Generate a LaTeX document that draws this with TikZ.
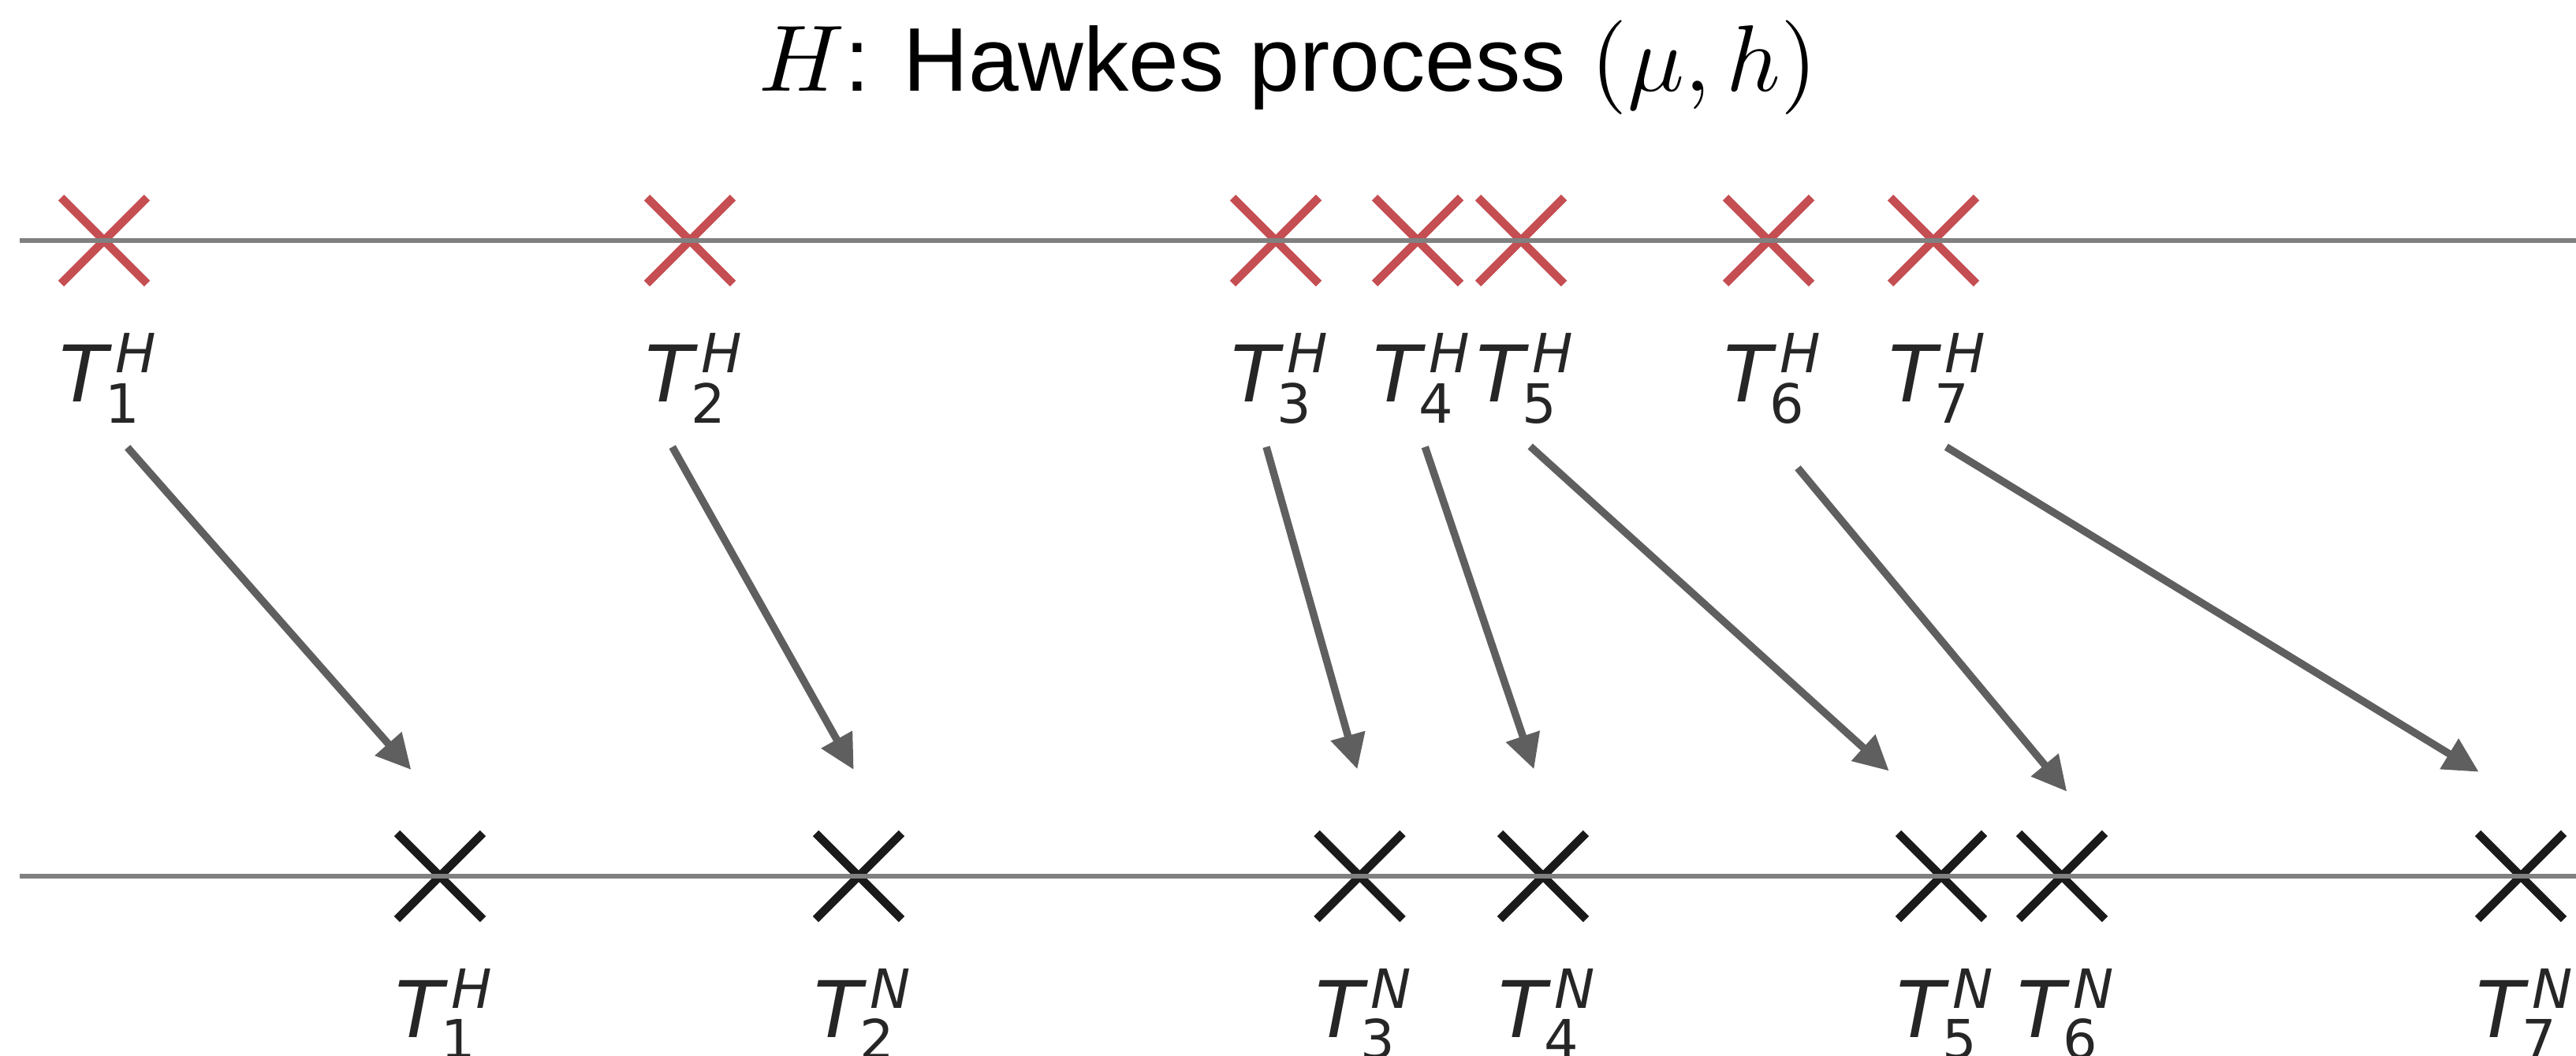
\documentclass[tikz,border=0pt]{standalone}
\usepackage[no-math]{fontspec}
\setmainfont{Liberation Sans}
\newfontfamily\dvsans{DejaVu Sans}
\usetikzlibrary{arrows.meta}
\definecolor{crossred}{HTML}{C44E52}
\definecolor{crossblk}{HTML}{1A1A1A}
\definecolor{axisgray}{HTML}{808080}
\definecolor{arrowgray}{HTML}{5F5F5F}
\definecolor{labelc}{HTML}{262626}
\newcommand{\tlab}[2]{{\dvsans\fontsize{28.2}{28.2}\selectfont\itshape T}%
  \rlap{\kern0.1cm\raisebox{0.37cm}{\dvsans\fontsize{19.5}{19.5}\selectfont\itshape #1}}%
  \kern-0.03cm\raisebox{-0.27cm}{\dvsans\fontsize{19.5}{19.5}\selectfont #2}}
\newcommand{\mytitlemath}[1]{\scalebox{3.4}{\normalsize$#1$}}
\begin{document}
\begin{tikzpicture}[
  xm/.style={line width=0.105cm},
  axisline/.style={draw=axisgray, line width=0.058cm},
  arr/.style={draw=arrowgray, line width=0.095cm, -{Triangle[length=0.44cm,width=0.43cm]}},
  lab/.style={text=labelc, inner sep=0pt, anchor=base west}
]
\useasboundingbox (0,0) rectangle (32.67,-13.38);
% title
\node[inner sep=0pt, anchor=base] (title) at (16.335,-1.15)
  {\fontsize{32.6}{32.6}\selectfont\mytitlemath{H}: Hawkes process \mytitlemath{(\mu, h)}};
% cross centres
\coordinate (h1) at (1.32,-3.05);
\coordinate (h2) at (8.75,-3.05);
\coordinate (h3) at (16.18,-3.05);
\coordinate (h4) at (17.98,-3.05);
\coordinate (h5) at (19.29,-3.05);
\coordinate (h6) at (22.43,-3.05);
\coordinate (h7) at (24.52,-3.05);
\coordinate (n1) at (5.58,-11.11);
\coordinate (n2) at (10.89,-11.11);
\coordinate (n3) at (17.245,-11.11);
\coordinate (n4) at (19.57,-11.11);
\coordinate (n5) at (24.62,-11.11);
\coordinate (n6) at (26.15,-11.11);
\coordinate (n7) at (31.97,-11.11);
% crosses
\foreach \c in {h1,h2,h3,h4,h5,h6,h7}{
  \draw[xm, crossred] (\c) ++(-0.545,-0.545) -- ++(1.09,1.09) (\c) ++(-0.545,0.545) -- ++(1.09,-1.09);
}
\foreach \c in {n1,n2,n3,n4,n5,n6,n7}{
  \draw[xm, crossblk] (\c) ++(-0.545,-0.545) -- ++(1.09,1.09) (\c) ++(-0.545,0.545) -- ++(1.09,-1.09);
}
% axis lines
\coordinate (topL) at (0.25,-3.05);
\coordinate (topR) at (32.67,-3.05);
\coordinate (botL) at (0.25,-11.11);
\coordinate (botR) at (32.67,-11.11);
\draw[axisline] (topL) -- (topR);
\draw[axisline] (botL) -- (botR);
% labels top
\node[lab] (lt1) at (0.75,-5.09) {\tlab{H}{1}};
\node[lab] (lt2) at (8.18,-5.09) {\tlab{H}{2}};
\node[lab] (lt3) at (15.61,-5.09) {\tlab{H}{3}};
\node[lab] (lt4) at (17.41,-5.09) {\tlab{H}{4}};
\node[lab] (lt5) at (18.72,-5.09) {\tlab{H}{5}};
\node[lab] (lt6) at (21.86,-5.09) {\tlab{H}{6}};
\node[lab] (lt7) at (23.95,-5.09) {\tlab{H}{7}};
% labels bottom
\node[lab] (lb1) at (5.01,-13.15) {\tlab{H}{1}};
\node[lab] (lb2) at (10.32,-13.15) {\tlab{N}{2}};
\node[lab] (lb3) at (16.675,-13.15) {\tlab{N}{3}};
\node[lab] (lb4) at (19.0,-13.15) {\tlab{N}{4}};
\node[lab] (lb5) at (24.05,-13.15) {\tlab{N}{5}};
\node[lab] (lb6) at (25.58,-13.15) {\tlab{N}{6}};
\node[lab] (lb7) at (31.40,-13.15) {\tlab{N}{7}};
% arrow ends
\coordinate (s1) at (1.617,-5.673);
\coordinate (s2) at (8.527,-5.667);
\coordinate (s3) at (16.06,-5.667);
\coordinate (s4) at (18.073,-5.667);
\coordinate (s5) at (19.407,-5.66);
\coordinate (s6) at (22.80,-5.933);
\coordinate (s7) at (24.683,-5.667);
\coordinate (e1) at (5.214,-9.76);
\coordinate (e2) at (10.827,-9.76);
\coordinate (e3) at (17.214,-9.753);
\coordinate (e4) at (19.454,-9.753);
\coordinate (e5) at (23.957,-9.775);
\coordinate (e6) at (26.213,-10.037);
\coordinate (e7) at (31.437,-9.787);
\foreach \i in {1,...,7}{
  \draw[arr] (s\i) -- (e\i);
}
\end{tikzpicture}
\end{document}
